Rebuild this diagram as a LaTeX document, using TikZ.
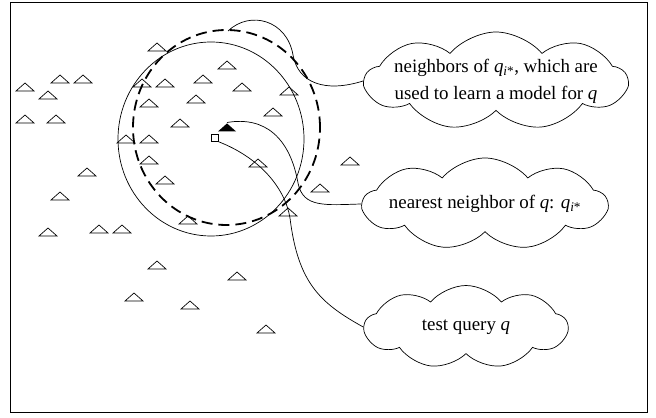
\documentclass[tikz,border=0pt]{standalone}
\usepackage{fontspec}
\setmainfont{Liberation Serif}
\usetikzlibrary{shapes.symbols, shapes.geometric}

\tikzset{
  note/.style={cloud, draw, fill=white, cloud puffs=9, cloud puff arc=100,
    cloud ignores aspect, inner sep=0pt},
  nnmark/.style={isosceles triangle, shape border rotate=90,
    isosceles triangle stretches, minimum width=18bp, minimum height=8bp,
    inner sep=0pt, fill=black},
  qmark/.style={draw, fill=white, minimum size=7bp, inner sep=0pt},
}

\begin{document}
\begin{tikzpicture}[x=10bp, y=10bp, line width=0.7bp,
    font=\fontsize{19}{27}\selectfont]
  \useasboundingbox (0,0) rectangle (65.6,41.8);
  % frame
  \draw (1.0,0.6) rectangle (64.7,41.6);
  % neighbourhoods of q and of its nearest neighbour
  \draw (21.1,27.9) ellipse [x radius=9.3, y radius=9.7];
  \draw[line width=1.8bp, dash pattern=on 11bp off 6bp]
    (22.65,29.05) ellipse [x radius=9.35, y radius=9.75];
  % training queries
  \foreach \x/\y in {15.7/37.1, 22.7/35.3, 6.0/33.9, 8.3/33.9, 2.5/33.1,
      4.8/32.3, 14.2/33.5, 16.5/33.5, 20.3/33.9, 24.2/33.1, 28.9/32.7,
      14.9/31.5, 19.6/31.9, 2.5/29.9, 5.6/29.9, 27.3/30.6, 18.0/29.5,
      12.6/27.9, 14.9/27.9, 14.9/25.8, 25.8/25.5, 8.7/24.6, 16.5/23.8,
      32.0/23.0, 6.0/22.2, 35.0/25.7, 18.8/19.8, 28.8/20.6, 4.8/18.6,
      9.9/18.9, 12.2/18.9, 15.7/15.3, 23.7/14.2, 13.4/12.1, 19.0/11.3,
      26.6/8.9} {
    \draw (\x-0.9,\y-0.4) -- (\x,\y+0.4) -- (\x+0.9,\y-0.4) -- cycle;
  }
  % nearest neighbour and test query
  \node[nnmark] (nn) at (22.7,29.0) {};
  \node[qmark] (q) at (21.5,28.0) {};
  \coordinate (nbrtop) at (22.8,38.7);
  % call-outs
  \node[note, minimum width=262bp, minimum height=98bp,
    label={[align=center]center:neighbors of \textit{q}\textsubscript{\textit{i}*}, which are\\used to learn a model for \textit{q}}]
    (nbrcloud) at (49.6,33.7) {};
  \node[note, minimum width=244bp, minimum height=92bp,
    label={center:nearest neighbor of \textit{q}: \textit{q}\textsubscript{\textit{i}*}}]
    (nncloud) at (48.5,21.4) {};
  \node[note, minimum width=203bp, minimum height=83bp,
    label={center:test query \textit{q}}]
    (qcloud) at (46.6,9.1) {};
  % connectors
  \draw (nbrcloud.west) .. controls (32.5,32.5) and (29.8,33.5) .. (29.3,36.3)
    .. controls (28.7,39.8) and (25.0,40.8) .. (nbrtop);
  \draw (nn.apex) .. controls (26.5,30.2) and (29.0,28.0) .. (29.8,23.5)
    .. controls (30.3,21.0) and (32.5,21.3) .. (nncloud.west);
  \draw (q.south east) .. controls (26,26) and (28.5,23) .. (29.0,20.0)
    .. controls (29.8,13.5) and (32,11.5) .. (qcloud.west);
\end{tikzpicture}
\end{document}
